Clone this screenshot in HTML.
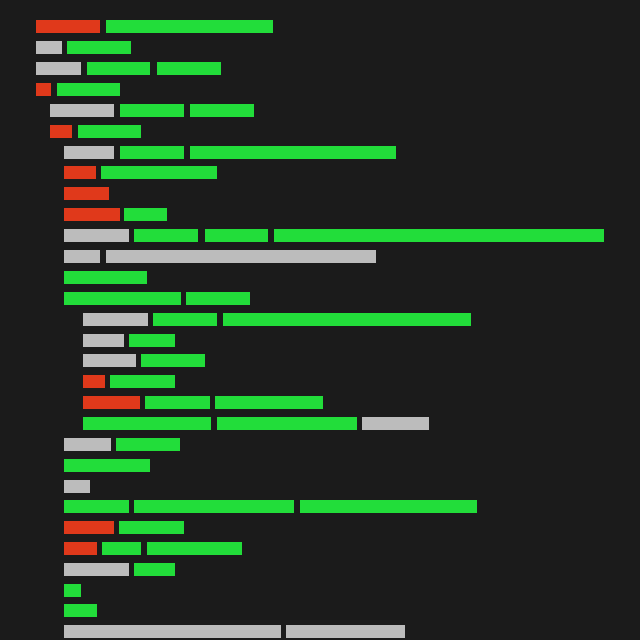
<!DOCTYPE html>
<html><head><meta charset="utf-8"><style>
html,body{margin:0;padding:0;background:#1b1b1b;}
#c{position:relative;width:640px;height:640px;overflow:hidden;background:#1b1b1b;}
#c div{position:absolute;height:13px;}
.r{background:#e0391b}.g{background:#22dd3a}.y{background:#bcbcbc}
</style></head><body><div id="c">
<div class="r" style="top:20px;left:36px;width:64px"></div><div class="g" style="top:20px;left:106px;width:167px"></div>
<div class="y" style="top:41px;left:36px;width:26px"></div><div class="g" style="top:41px;left:67px;width:64px"></div>
<div class="y" style="top:62px;left:36px;width:45px"></div><div class="g" style="top:62px;left:87px;width:63px"></div><div class="g" style="top:62px;left:157px;width:64px"></div>
<div class="r" style="top:83px;left:36px;width:15px"></div><div class="g" style="top:83px;left:57px;width:63px"></div>
<div class="y" style="top:104px;left:50px;width:64px"></div><div class="g" style="top:104px;left:120px;width:64px"></div><div class="g" style="top:104px;left:190px;width:64px"></div>
<div class="r" style="top:125px;left:50px;width:22px"></div><div class="g" style="top:125px;left:78px;width:63px"></div>
<div class="y" style="top:146px;left:64px;width:50px"></div><div class="g" style="top:146px;left:120px;width:64px"></div><div class="g" style="top:146px;left:190px;width:206px"></div>
<div class="r" style="top:166px;left:64px;width:32px"></div><div class="g" style="top:166px;left:101px;width:116px"></div>
<div class="r" style="top:187px;left:64px;width:45px"></div>
<div class="r" style="top:208px;left:64px;width:56px"></div><div class="g" style="top:208px;left:124px;width:43px"></div>
<div class="y" style="top:229px;left:64px;width:65px"></div><div class="g" style="top:229px;left:134px;width:64px"></div><div class="g" style="top:229px;left:205px;width:63px"></div><div class="g" style="top:229px;left:274px;width:330px"></div>
<div class="y" style="top:250px;left:64px;width:36px"></div><div class="y" style="top:250px;left:106px;width:270px"></div>
<div class="g" style="top:271px;left:64px;width:83px"></div>
<div class="g" style="top:292px;left:64px;width:117px"></div><div class="g" style="top:292px;left:186px;width:64px"></div>
<div class="y" style="top:313px;left:83px;width:65px"></div><div class="g" style="top:313px;left:153px;width:64px"></div><div class="g" style="top:313px;left:223px;width:248px"></div>
<div class="y" style="top:334px;left:83px;width:41px"></div><div class="g" style="top:334px;left:129px;width:46px"></div>
<div class="y" style="top:354px;left:83px;width:53px"></div><div class="g" style="top:354px;left:141px;width:64px"></div>
<div class="r" style="top:375px;left:83px;width:22px"></div><div class="g" style="top:375px;left:110px;width:65px"></div>
<div class="r" style="top:396px;left:83px;width:57px"></div><div class="g" style="top:396px;left:145px;width:65px"></div><div class="g" style="top:396px;left:215px;width:108px"></div>
<div class="g" style="top:417px;left:83px;width:128px"></div><div class="g" style="top:417px;left:217px;width:140px"></div><div class="y" style="top:417px;left:362px;width:67px"></div>
<div class="y" style="top:438px;left:64px;width:47px"></div><div class="g" style="top:438px;left:116px;width:64px"></div>
<div class="g" style="top:459px;left:64px;width:86px"></div>
<div class="y" style="top:480px;left:64px;width:26px"></div>
<div class="g" style="top:500px;left:64px;width:65px"></div><div class="g" style="top:500px;left:134px;width:160px"></div><div class="g" style="top:500px;left:300px;width:177px"></div>
<div class="r" style="top:521px;left:64px;width:50px"></div><div class="g" style="top:521px;left:119px;width:65px"></div>
<div class="r" style="top:542px;left:64px;width:33px"></div><div class="g" style="top:542px;left:102px;width:39px"></div><div class="g" style="top:542px;left:147px;width:95px"></div>
<div class="y" style="top:563px;left:64px;width:65px"></div><div class="g" style="top:563px;left:134px;width:41px"></div>
<div class="g" style="top:584px;left:64px;width:17px"></div>
<div class="g" style="top:604px;left:64px;width:33px"></div>
<div class="y" style="top:625px;left:64px;width:217px"></div><div class="y" style="top:625px;left:286px;width:119px"></div>
</div></body></html>
